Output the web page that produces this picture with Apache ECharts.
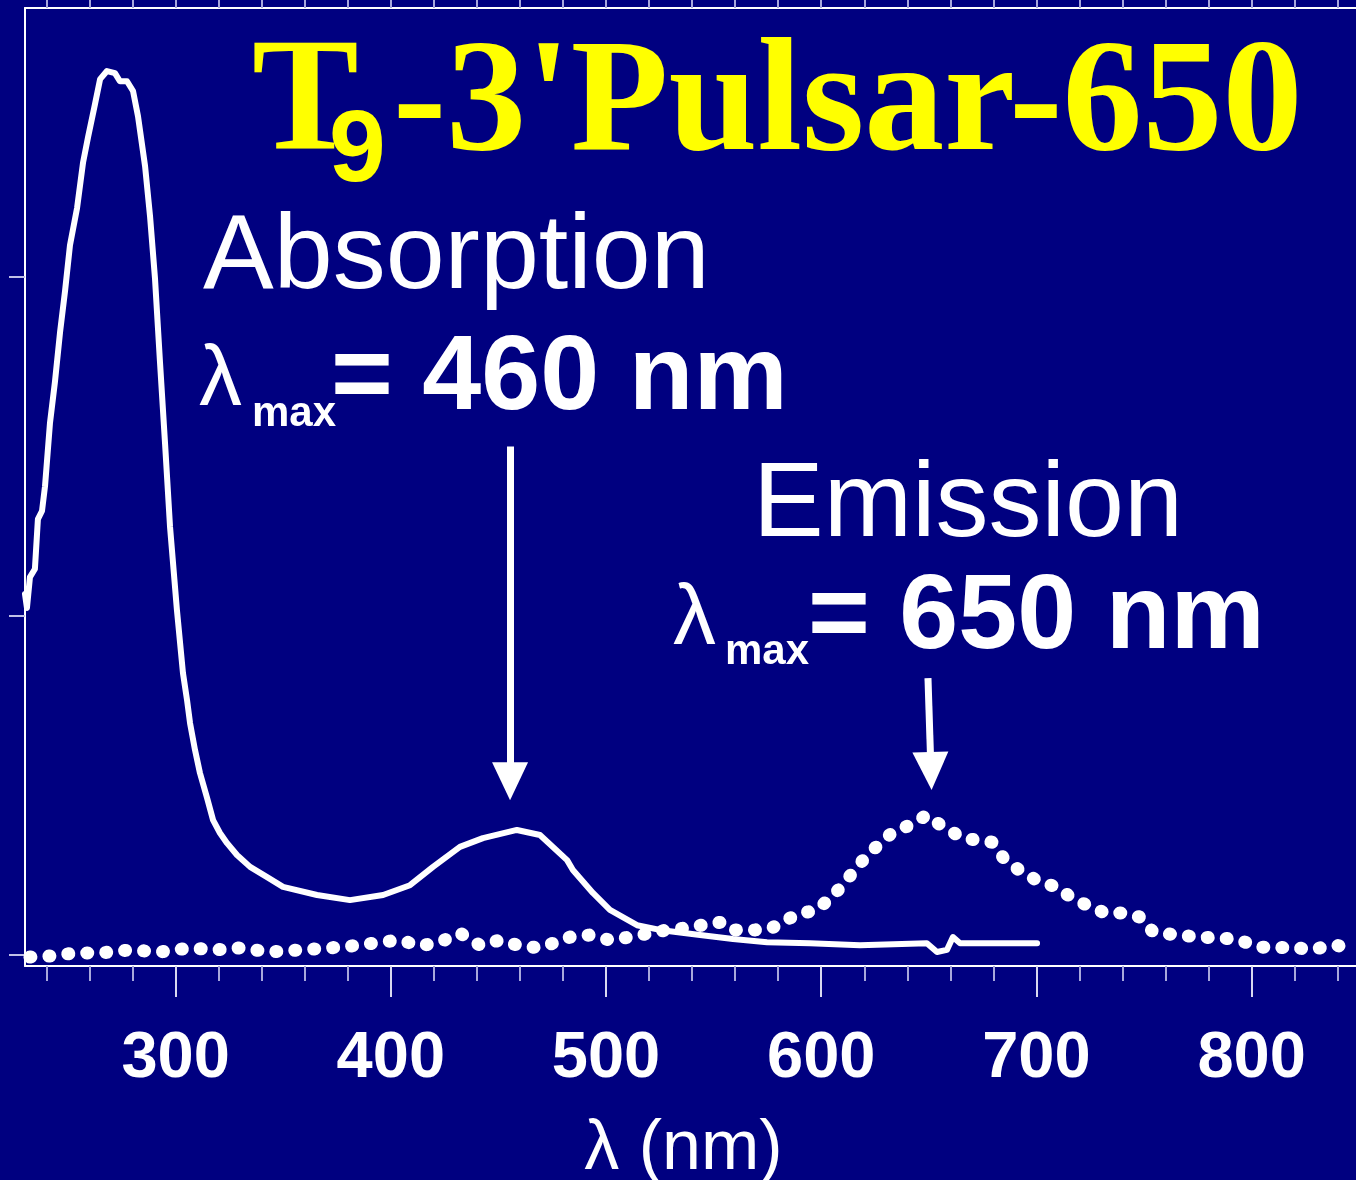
<!DOCTYPE html>
<html><head><meta charset="utf-8">
<script src="https://cdn.jsdelivr.net/npm/echarts@6/dist/echarts.min.js"></script>
<style>html,body{margin:0;padding:0;background:#000080;}#chart{width:1356px;height:1180px;}</style>
</head><body><div id="chart"></div>
<script>
// Absorption spectrum: [wavelength nm, relative intensity]
const absorptionSpectrum = [
  [230.0,1.065],[230.9,1.024],[232.3,1.115],[234.6,1.139],[236.0,1.286],[237.9,1.310],[239.3,1.383],
  [241.6,1.569],[243.9,1.690],[246.3,1.838],[248.6,1.959],[250.9,2.094],[254.2,2.204],[257.0,2.339],
  [259.3,2.413],[262.5,2.510],[264.9,2.584],[268.1,2.608],[271.8,2.602],[274.1,2.578],[277.4,2.578],
  [280.2,2.549],[282.5,2.475],[285.8,2.327],[288.1,2.180],[290.4,1.997],[292.7,1.752],[295.1,1.507],
  [297.4,1.263],[300.6,1.018],[303.4,0.832],[305.3,0.752],[306.7,0.684],[309.0,0.605],[311.3,0.537],
  [314.5,0.466],[317.4,0.398],[320.6,0.360],[323.9,0.330],[328.5,0.295],[334.6,0.260],[342.5,0.230],
  [349.9,0.201],[365.7,0.177],[381.0,0.162],[396.4,0.177],[408.9,0.206],[419.6,0.260],
  [432.1,0.319],[442.8,0.345],[458.6,0.369],[469.3,0.354],[481.9,0.280],[484.6,0.251],[493.9,0.183],
  [501.8,0.133],[514.4,0.088],[525.1,0.074],[543.7,0.059],[559.0,0.047],[574.8,0.038],[594.8,0.035],
  [618.0,0.029],[649.1,0.035],[653.8,0.009],[658.4,0.015],[661.2,0.053],[664.5,0.035],[679.8,0.035],
  [700.3,0.035]
];
// Emission spectrum: [wavelength nm, relative intensity]
const emissionSpectrum = [
  [232.3,-0.006],[241.6,-0.003],[253.2,0.006],[264.9,0.006],[278.8,0.015],[292.7,0.009],[306.7,0.021],
  [318.3,0.015],[329.9,0.021],[343.8,0.009],[357.8,0.015],[371.7,0.021],[385.7,0.029],[395.0,0.038],
  [404.3,0.044],[413.6,0.027],[422.8,0.038],[432.1,0.065],[441.4,0.029],[450.7,0.044],[460.0,0.027],
  [469.3,0.021],[483.3,0.053],[492.5,0.059],[501.8,0.044],[511.1,0.053],[528.3,0.074],[537.6,0.080],
  [546.9,0.091],[553.9,0.097],[559.0,0.074],[569.2,0.074],[577.1,0.080],[585.5,0.109],[590.1,0.124],
  [597.1,0.130],[605.5,0.174],[612.9,0.230],[619.4,0.280],[625.0,0.316],[633.3,0.363],[641.2,0.383],
  [649.1,0.413],[656.6,0.378],[665.9,0.345],[672.4,0.339],[679.3,0.333],[685.4,0.280],[693.3,0.245],
  [701.7,0.215],[709.6,0.201],[716.5,0.168],[723.5,0.147],[731.9,0.124],[740.2,0.124],[748.1,0.112],
  [754.2,0.068],[765.3,0.059],[776.0,0.053],[784.4,0.050],[793.2,0.047],[802.9,0.024],[811.8,0.021],
  [819.2,0.024],[827.1,0.015],[834.1,0.024],[839.7,0.029],[845.7,0.015]
];
const majorTicks = [300, 400, 500, 600, 700, 800];
const minorTicks = [240,260,280,320,340,360,380,420,440,460,480,520,540,560,580,620,640,660,680,720,740,760,780,820,840];
const topTicks = [240,260,280,300,320,340,360,380,400,420,440,460,480,500,520,540,560,580,600,620,640,660,680,700,720,740,760,780,800,820,840];
const yTicks = [0, 1, 2];
// arrows pointing at maxima: [wavelength from, value from, wavelength to, value to]
const arrowAbs = [455.4, 1.50, 455.4, 0.513];
const arrowEm = [649.6, 0.817, 651.0, 0.543];

const SANS = "'Liberation Sans', Arial, sans-serif";
const SERIF = "'Liberation Serif', 'Times New Roman', serif";

const chart = echarts.init(document.getElementById('chart'), null, {renderer: 'canvas'});

function arrowLine(a) {
  return [
    {coord: [a[0], a[1]], symbol: 'none'},
    {coord: [a[2], a[3]], symbol: 'triangle', symbolSize: [36, 38]}
  ];
}

function txt(text, x, y, size, weight, family, fill) {
  return {
    type: 'text', x: x, y: y, silent: true,
    style: {text: text, fill: fill || '#ffffff', fontSize: size, fontWeight: weight,
            fontFamily: family, align: 'left', verticalAlign: 'middle'}
  };
}

chart.setOption({
  animation: false,
  backgroundColor: '#000080',
  grid: {left: 25, right: 0, top: 8, bottom: 214, containLabel: false, outerBoundsMode: 'none'},
  xAxis: [
    {
      type: 'value', min: 230, max: 848.5, position: 'bottom',
      axisLine: {show: true, onZero: false, lineStyle: {color: '#ffffff', width: 2}},
      axisTick: {show: true, inside: false, length: 31, customValues: majorTicks,
                 lineStyle: {color: '#d8d8f0', width: 2}},
      axisLabel: {show: true, customValues: majorTicks, color: '#ffffff', fontSize: 65,
                  fontWeight: 'bold', fontFamily: SANS, margin: 61},
      splitLine: {show: false},
      name: 'λ (nm)', nameLocation: 'middle', nameGap: 149,
      nameTextStyle: {color: '#ffffff', fontSize: 70, fontFamily: SANS, padding: [0, 14, 0, 0]}
    },
    {
      type: 'value', min: 230, max: 848.5, position: 'bottom', offset: 0,
      axisLine: {show: false, onZero: false},
      axisTick: {show: true, inside: false, length: 15, customValues: minorTicks,
                 lineStyle: {color: '#a8a8dc', width: 2}},
      axisLabel: {show: false},
      splitLine: {show: false}
    },
    {
      type: 'value', min: 230, max: 848.5, position: 'top',
      axisLine: {show: true, onZero: false, lineStyle: {color: '#ffffff', width: 2}},
      axisTick: {show: true, inside: false, length: 10, customValues: topTicks,
                 lineStyle: {color: '#a8a8dc', width: 2}},
      axisLabel: {show: false},
      splitLine: {show: false}
    }
  ],
  yAxis: {
    type: 'value', min: -0.0324, max: 2.794,
    axisLine: {show: true, onZero: false, lineStyle: {color: '#ffffff', width: 2}},
    axisTick: {show: true, inside: false, length: 16, customValues: yTicks,
               lineStyle: {color: '#c0c0e8', width: 2}},
    axisLabel: {show: false},
    splitLine: {show: false}
  },
  series: [
    {
      name: 'Absorption', type: 'line', xAxisIndex: 0, data: absorptionSpectrum,
      showSymbol: false, clip: false, smooth: false,
      lineStyle: {color: '#ffffff', width: 6, join: 'round', cap: 'round'},
      markLine: {
        silent: true, animation: false, label: {show: false},
        lineStyle: {color: '#ffffff', width: 7, type: 'solid'},
        data: [arrowLine(arrowAbs), arrowLine(arrowEm)]
      }
    },
    {
      name: 'Emission', type: 'line', xAxisIndex: 0, data: emissionSpectrum,
      showSymbol: false, clip: false, smooth: false,
      lineStyle: {color: '#ffffff', width: 13, type: [1, 18], cap: 'round', join: 'round'}
    }
  ],
  graphic: [
    txt('T', 252, 107, 160, 'bold', SERIF, '#ffff00'),
    txt('9', 329, 153, 102, 'bold', SANS, '#ffff00'),
    txt("-3'Pulsar-650", 393, 108, 160, 'bold', SERIF, '#ffff00'),
    txt('Absorption', 203, 259, 106, 'normal', SANS),
    txt('λ', 199, 381, 86, 'normal', SANS),
    txt('max', 252, 414, 42, 'bold', SANS),
    txt('= 460 nm', 331, 380, 106, 'bold', SANS),
    txt('Emission', 753, 507, 106, 'normal', SANS),
    txt('λ', 673, 620, 86, 'normal', SANS),
    txt('max', 725, 652, 42, 'bold', SANS),
    txt('= 650 nm', 808, 619, 106, 'bold', SANS)
  ]
});
</script>
</body></html>
